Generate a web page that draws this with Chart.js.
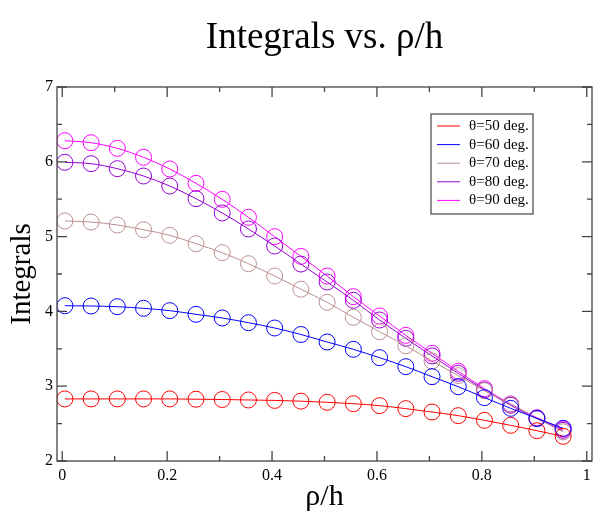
<!DOCTYPE html>
<html lang="en">
<head>
<meta charset="UTF-8">
<title>Integrals vs. rho/h</title>
<script src="https://cdn.jsdelivr.net/npm/chart.js"></script>
<style>
    body { margin: 0; background: #ffffff; }
    #wrap { width: 601px; height: 531px; }
</style>
</head>
<body>
<div id="wrap"><canvas id="chart" width="601" height="531"></canvas></div>
<script>
    // data
    const rho = [0.005, 0.055, 0.105, 0.155, 0.205, 0.255, 0.305, 0.355, 0.405, 0.455,
                 0.505, 0.555, 0.605, 0.655, 0.705, 0.755, 0.805, 0.855, 0.905, 0.955];
    const theta50 = [2.83, 2.83, 2.83, 2.83, 2.83, 2.826, 2.822, 2.816, 2.81, 2.80,
                     2.785, 2.766, 2.74, 2.70, 2.655, 2.606, 2.544, 2.477, 2.405, 2.33];
    const theta60 = [4.076, 4.072, 4.063, 4.041, 4.01, 3.961, 3.912, 3.849, 3.778, 3.691,
                     3.591, 3.493, 3.381, 3.261, 3.127, 2.993, 2.847, 2.704, 2.57, 2.437];
    const theta70 = [5.209, 5.195, 5.155, 5.092, 5.017, 4.905, 4.785, 4.638, 4.473, 4.297,
                     4.122, 3.921, 3.729, 3.541, 3.337, 3.141, 2.94, 2.76, 2.57, 2.39];
    const theta80 = [5.993, 5.975, 5.908, 5.81, 5.676, 5.507, 5.316, 5.102, 4.874, 4.633,
                     4.393, 4.148, 3.885, 3.64, 3.404, 3.172, 2.949, 2.745, 2.565, 2.41];
    const theta90 = [6.282, 6.255, 6.18, 6.06, 5.904, 5.712, 5.498, 5.258, 4.999, 4.736,
                     4.473, 4.197, 3.939, 3.68, 3.44, 3.199, 2.967, 2.762, 2.579, 2.428];
    const seriesLabels = ['\u03b8=50 deg.', '\u03b8=60 deg.', '\u03b8=70 deg.', '\u03b8=80 deg.', '\u03b8=90 deg.'];
    const seriesColors = ['#ff0000', '#0000ff', '#bc8f8f', '#9400d3', '#ff00ff'];
    const xMajor = [0, 0.2, 0.4, 0.6, 0.8, 1];
    const xMinor = [0.1, 0.3, 0.5, 0.7, 0.9];
    const yMajor = [2, 3, 4, 5, 6, 7];
    const yMinor = [2.5, 3.5, 4.5, 5.5, 6.5];
    const chartTitle = 'Integrals vs. \u03c1/h';

    const serif = '"Liberation Serif", "Times New Roman", serif';
    const allSeries = [theta50, theta60, theta70, theta80, theta90];

    const datasets = allSeries.map((vals, i) => ({
        label: seriesLabels[i],
        data: rho.map((x, j) => ({ x: x, y: vals[j] })),
        borderColor: seriesColors[i],
        backgroundColor: 'rgba(0,0,0,0)',
        borderWidth: 1,
        pointRadius: 8,
        pointHoverRadius: 8,
        pointBorderWidth: 1,
        pointBorderColor: seriesColors[i],
        pointBackgroundColor: 'rgba(0,0,0,0)',
        cubicInterpolationMode: 'monotone'
    }));

    // box around the plot with inward ticks on every side, title over the plot
    const framePlugin = {
        id: 'frame',
        afterDraw(chart) {
            const { ctx, chartArea: a, scales: { x, y } } = chart;
            ctx.save();
            ctx.strokeStyle = '#444';
            ctx.lineWidth = 1.3;
            ctx.strokeRect(a.left, a.top, a.right - a.left, a.bottom - a.top);
            ctx.beginPath();
            const xt = (v, len) => {
                const px = x.getPixelForValue(v);
                ctx.moveTo(px, a.bottom); ctx.lineTo(px, a.bottom - len);
                ctx.moveTo(px, a.top); ctx.lineTo(px, a.top + len);
            };
            const yt = (v, len) => {
                const py = y.getPixelForValue(v);
                ctx.moveTo(a.left, py); ctx.lineTo(a.left + len, py);
                ctx.moveTo(a.right, py); ctx.lineTo(a.right - len, py);
            };
            xMajor.forEach(v => xt(v, 10));
            xMinor.forEach(v => xt(v, 5));
            yMajor.forEach(v => yt(v, 10));
            yMinor.forEach(v => yt(v, 5));
            ctx.stroke();

            ctx.fillStyle = '#000';
            ctx.font = '37px ' + serif;
            ctx.textAlign = 'center';
            ctx.textBaseline = 'alphabetic';
            ctx.fillText(chartTitle, (a.left + a.right) / 2, 48);
            ctx.restore();
        }
    };

    // legend box inside the plot, top right
    const boxLegend = {
        id: 'boxLegend',
        afterDraw(chart) {
            const ctx = chart.ctx;
            const left = 431, top = 114, w = 102, h = 100;
            ctx.save();
            ctx.fillStyle = '#ffffff';
            ctx.fillRect(left, top, w, h);
            ctx.strokeStyle = '#444';
            ctx.lineWidth = 1.2;
            ctx.strokeRect(left, top, w, h);
            ctx.font = '15px ' + serif;
            ctx.textBaseline = 'middle';
            chart.data.datasets.forEach((ds, i) => {
                const yy = top + 12 + i * 18.6;
                ctx.strokeStyle = ds.borderColor;
                ctx.lineWidth = 1;
                ctx.beginPath();
                ctx.moveTo(left + 6, yy);
                ctx.lineTo(left + 29, yy);
                ctx.stroke();
                ctx.fillStyle = '#000';
                ctx.fillText(ds.label, left + 38, yy);
            });
            ctx.restore();
        }
    };

    new Chart(document.getElementById('chart'), {
        type: 'line',
        data: { datasets: datasets },
        options: {
            responsive: false,
            animation: false,
            layout: { padding: { left: 0, right: 9, top: 87, bottom: 0 } },
            plugins: {
                legend: { display: false },
                tooltip: { enabled: false },
                title: { display: false }
            },
            scales: {
                x: {
                    type: 'linear',
                    min: -0.01,
                    max: 1.01,
                    afterBuildTicks: s => { s.ticks = xMajor.map(v => ({ value: v })); },
                    afterFit: s => { s.height = 70; },
                    grid: { display: false, drawTicks: false, tickLength: 0 },
                    border: { display: false },
                    ticks: {
                        color: '#000',
                        padding: 5,
                        maxRotation: 0,
                        font: { family: serif, size: 16 },
                        callback: v => String(v)
                    },
                    title: {
                        display: true,
                        text: '\u03c1/h',
                        color: '#000',
                        font: { family: serif, size: 30 },
                        padding: { top: 0, bottom: 16 }
                    }
                },
                y: {
                    min: 2,
                    max: 7,
                    afterBuildTicks: s => { s.ticks = yMajor.map(v => ({ value: v })); },
                    afterFit: s => { s.width = 57; },
                    grid: { display: false, drawTicks: false, tickLength: 0 },
                    border: { display: false },
                    ticks: {
                        color: '#000',
                        padding: 4,
                        font: { family: serif, size: 16 },
                        callback: v => String(v)
                    },
                    title: {
                        display: true,
                        text: 'Integrals',
                        color: '#000',
                        font: { family: serif, size: 29 },
                        padding: { top: 5, bottom: 0 }
                    }
                }
            }
        },
        plugins: [framePlugin, boxLegend]
    });
</script>
</body>
</html>
